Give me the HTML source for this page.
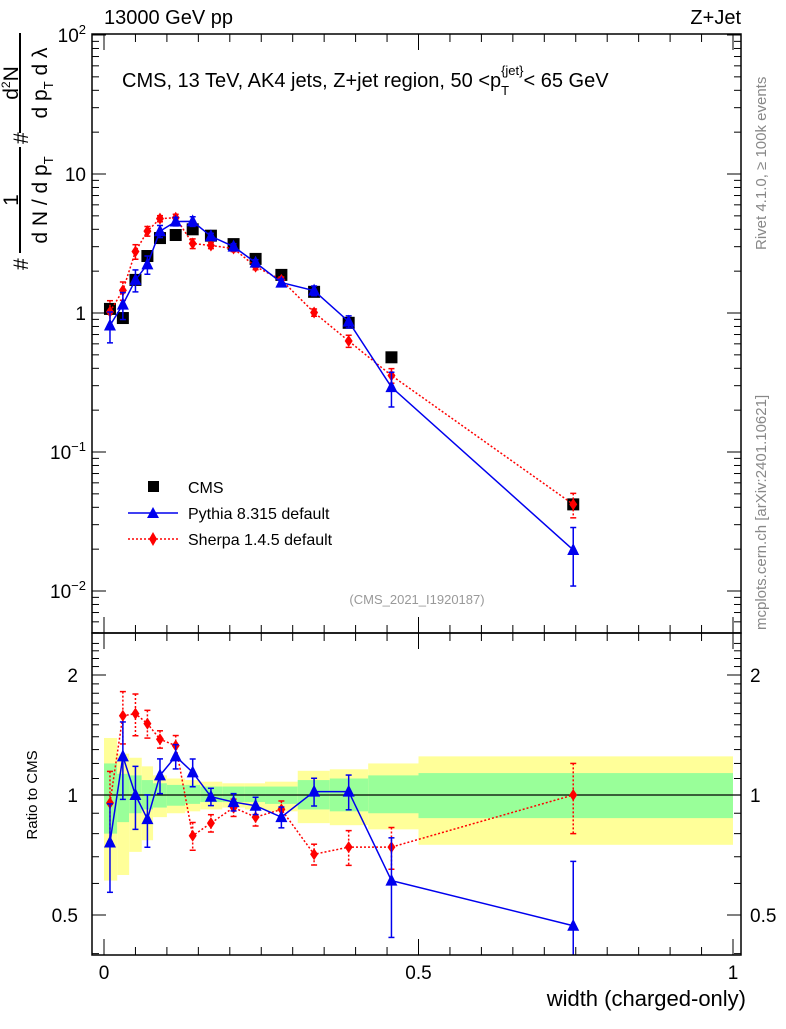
<!DOCTYPE html>
<html><head><meta charset="utf-8"><style>
body{margin:0;background:#fff;}
svg text{font-family:"Liberation Sans",sans-serif;}
</style></head><body>
<svg id="chart" xmlns="http://www.w3.org/2000/svg" width="786" height="1024" viewBox="0 0 786 1024">
<rect width="786" height="1024" fill="#fff"/>
<g id="bands"></g>
<g id="series"></g>
<g id="axes"></g>
<text x="104" y="24" font-size="20">13000 GeV pp</text>
<text x="741" y="24" font-size="20" text-anchor="end">Z+Jet</text>
<text x="122" y="87" font-size="20">CMS, 13 TeV, AK4 jets, Z+jet region, 50 &lt;p<tspan font-size="13" dy="8">T</tspan><tspan font-size="13" dx="-8" dy="-20">{jet}</tspan><tspan dy="12">&lt; 65 GeV</tspan></text>
<text x="417" y="604" font-size="13" fill="#999" text-anchor="middle">(CMS_2021_I1920187)</text>
<text transform="translate(766,250) rotate(-90)" font-size="15" fill="#888">Rivet 4.1.0, ≥ 100k events</text>
<text transform="translate(766,630) rotate(-90)" font-size="15" fill="#888">mcplots.cern.ch [arXiv:2401.10621]</text>
<text x="746" y="1006" font-size="22" text-anchor="end">width (charged-only)</text>
<text transform="translate(37,795) rotate(-90)" font-size="15" text-anchor="middle">Ratio to CMS</text>
<g transform="rotate(-90)" font-size="21">
<text x="-270" y="28">#</text>
<line x1="-253" x2="-147" y1="20" y2="20" stroke="#000" stroke-width="2"/>
<text x="-200" y="18" text-anchor="middle">1</text>
<text x="-200" y="47" text-anchor="middle">d N / d p<tspan font-size="13" dy="6">T</tspan></text>
<text x="-144" y="28">#</text>
<line x1="-133" x2="-33" y1="20" y2="20" stroke="#000" stroke-width="2"/>
<text x="-83" y="18" text-anchor="middle">d<tspan font-size="12" dy="-8">2</tspan><tspan dy="8">N</tspan></text>
<text x="-83" y="47" text-anchor="middle">d p<tspan font-size="13" dy="6">T</tspan><tspan dy="-6"> d λ</tspan></text>
</g>
<g>
<rect x="148" y="481" width="11" height="11" fill="#000"/>
<text x="188" y="493" font-size="16">CMS</text>
<line x1="128" x2="178" y1="513" y2="513" stroke="#00e" stroke-width="1.5"/>
<path d="M147,518 L153,507 L159,518 Z" fill="#00e"/>
<text x="188" y="519" font-size="16">Pythia 8.315 default</text>
<line x1="128" x2="178" y1="539" y2="539" stroke="#f00" stroke-width="1.5" stroke-dasharray="2,2"/>
<path d="M153,532 L157,539 L153,546 L149,539 Z" fill="#f00"/>
<text x="188" y="545" font-size="16">Sherpa 1.4.5 default</text>
</g>
</svg>
<script>
const xCenters=[0.0095,0.030,0.050,0.069,0.089,0.114,0.141,0.170,0.206,0.241,0.282,0.334,0.389,0.457,0.746];
const binEdges=[0,0.021,0.04,0.06,0.078,0.1,0.129,0.153,0.188,0.224,0.256,0.308,0.359,0.42,0.5,1.0];
const cmsValues=[1.07,0.92,1.73,2.57,3.46,3.64,4.0,3.6,3.13,2.45,1.88,1.42,0.85,0.48,0.042];
const pythiaRatio=[0.76,1.25,1.0,0.87,1.12,1.25,1.14,0.99,0.96,0.94,0.88,1.02,1.02,0.61,0.47];
const sherpaRatio=[0.955,1.58,1.6,1.51,1.38,1.33,0.79,0.85,0.93,0.88,0.92,0.71,0.74,0.74,1.0];
const pythiaErr=[0.25,0.22,0.18,0.15,0.1,0.07,0.08,0.05,0.05,0.05,0.06,0.08,0.1,0.28,0.45];
const sherpaErr=[0.2,0.15,0.12,0.08,0.05,0.06,0.08,0.05,0.05,0.05,0.05,0.06,0.1,0.12,0.2];
const yellowUp=[1.39,1.27,1.24,1.18,1.12,1.1,1.09,1.08,1.07,1.07,1.08,1.15,1.16,1.2,1.25];
const yellowDn=[0.61,0.63,0.72,0.77,0.88,0.9,0.91,0.92,0.93,0.92,0.91,0.85,0.84,0.82,0.75];
const greenUp=[1.2,1.13,1.12,1.09,1.07,1.06,1.06,1.05,1.05,1.05,1.05,1.09,1.1,1.12,1.135];
const greenDn=[0.8,0.855,0.9,0.92,0.93,0.94,0.95,0.96,0.96,0.96,0.95,0.92,0.91,0.9,0.875];
const mainTicks=[["10^-2",-2],["10^-1",-1],["1",0],["10",1],["10^2",2]];
const ratioTicks=[0.5,1,2];
const xTicks=[0,0.5,1];

const NS="http://www.w3.org/2000/svg";
const L=92,R=741,T=34,MB=633,RB=955;
const X=v=>104+629*v;
const YM=v=>313-139*Math.log10(v);
const YR=v=>795-120*Math.log2(v);
function mk(tag,attrs,parent){const e=document.createElementNS(NS,tag);for(const k in attrs)e.setAttribute(k,attrs[k]);parent.appendChild(e);return e;}
const bands=document.getElementById('bands'),ser=document.getElementById('series'),ax=document.getElementById('axes');
for(let i=0;i<xCenters.length;i++){
 const x0=X(binEdges[i]),x1=X(binEdges[i+1]);
 const yb=mk('rect',{x:x0,y:YR(yellowUp[i]),width:x1-x0,height:YR(yellowDn[i])-YR(yellowUp[i]),fill:'#ffff99'},bands);
 
 
 const gb=mk('rect',{x:x0,y:YR(greenUp[i]),width:x1-x0,height:YR(greenDn[i])-YR(greenUp[i]),fill:'#99ff99'},bands);
 
 
}
mk('line',{x1:L,x2:R,y1:YR(1),y2:YR(1),stroke:'#000','stroke-width':1.3},bands);
function series(vals,errs,ratio,color,dash,name){
 const ptsM=vals.map((v,i)=>[X(xCenters[i]),YM(v)]);
 const ptsR=ratio.map((v,i)=>[X(xCenters[i]),YR(v)]);
 [[ptsM,vals,YM,T,MB],[ptsR,ratio,YR,MB,RB]].forEach(([pts,vv,Y,lo,hi])=>{
  const pl=mk('polyline',{points:pts.map(p=>p.join(',')).join(' '),fill:'none',stroke:color,'stroke-width':1.5,'stroke-dasharray':dash},ser);
  
  
  vv.forEach((v,i)=>{
   const x=pts[i][0];
   const y1=Math.max(lo,Y(v*(1+errs[i])));
   const y2=Math.min(hi,Y(Math.max(v*(1-errs[i]),1e-4)));
   mk('line',{x1:x,x2:x,y1:y1,y2:y2,stroke:color,'stroke-width':1.5,'stroke-dasharray':dash},ser);
   mk('line',{x1:x-3,x2:x+3,y1:y1,y2:y1,stroke:color,'stroke-width':1.5},ser);
   if(y2<hi) mk('line',{x1:x-3,x2:x+3,y1:y2,y2:y2,stroke:color,'stroke-width':1.5},ser);
   const py=pts[i][1];
   const d=name==='pythia'?`M${x-6},${py+5} L${x},${py-7} L${x+6},${py+5} Z`:`M${x},${py-6} L${x+4},${py} L${x},${py+6} L${x-4},${py} Z`;
   const m=mk('path',{d:d,fill:color},ser);
   
   
  });
 });
}
cmsValues.forEach((v,i)=>{
 const r=mk('rect',{x:X(xCenters[i])-6,y:YM(v)-6,width:12,height:12,fill:'#000'},ser);
 
 
});
series(sherpaRatio.map((r,i)=>r*cmsValues[i]),sherpaErr,sherpaRatio,'#f00','2,2','sherpa');
series(pythiaRatio.map((r,i)=>r*cmsValues[i]),pythiaErr,pythiaRatio,'#00e','','pythia');
mk('rect',{x:L,y:T,width:R-L,height:MB-T,fill:'none',stroke:'#000','stroke-width':1.5},ax);
mk('rect',{x:L,y:MB,width:R-L,height:RB-MB,fill:'none',stroke:'#000','stroke-width':1.5},ax);
for(let e=-3;e<=2;e++)for(let k=1;k<10;k++){
 const v=k*Math.pow(10,e),ty=YM(v);if(ty<T||ty>MB)continue;
 const len=k===1?14:7;
 mk('line',{x1:L,x2:L+len,y1:ty,y2:ty,stroke:'#000'},ax);
 mk('line',{x1:R,x2:R-len,y1:ty,y2:ty,stroke:'#000'},ax);
}
mainTicks.forEach(([lab,e])=>{
 const ty=YM(Math.pow(10,e))+7;
 const t=mk('text',{x:86,y:ty,'font-size':19,'text-anchor':'end'},ax);
 
 
 if(lab.indexOf('^')>0){const [b,p]=lab.split('^');t.textContent=b;const s=mk('tspan',{'font-size':13,dy:-8},t);s.textContent=p.replace('-','−');}
 else t.textContent=lab;
});
for(let v=0.4;v<=2.5;v+=0.1){const ty=YR(v);if(ty<MB||ty>RB)continue;
 const major=Math.abs(v-0.5)<1e-6||Math.abs(v-1)<1e-6||Math.abs(v-2)<1e-6;const len=major?14:7;
 mk('line',{x1:L,x2:L+len,y1:ty,y2:ty,stroke:'#000'},ax);mk('line',{x1:R,x2:R-len,y1:ty,y2:ty,stroke:'#000'},ax);}
ratioTicks.forEach(v=>{
 const a=mk('text',{x:78,y:YR(v)+7,'font-size':19,'text-anchor':'end'},ax);a.textContent=String(v);
 
 
 const b=mk('text',{x:750,y:YR(v)+7,'font-size':19},ax);b.textContent=String(v);
 
 
});
for(let i=-1;i<=20;i++){const v=i*0.05,tx=X(v);if(tx<L||tx>R)continue;const len=i%10===0?16:8;
 [[T,1],[MB,-1],[MB,1],[RB,-1]].forEach(([y0,s])=>mk('line',{x1:tx,x2:tx,y1:y0,y2:y0+s*len,stroke:'#000'},ax));}
xTicks.forEach(v=>{const t=mk('text',{x:X(v),y:979,'font-size':19,'text-anchor':'middle'},ax);t.textContent=String(v);
 
 });
</script>
</body></html>
